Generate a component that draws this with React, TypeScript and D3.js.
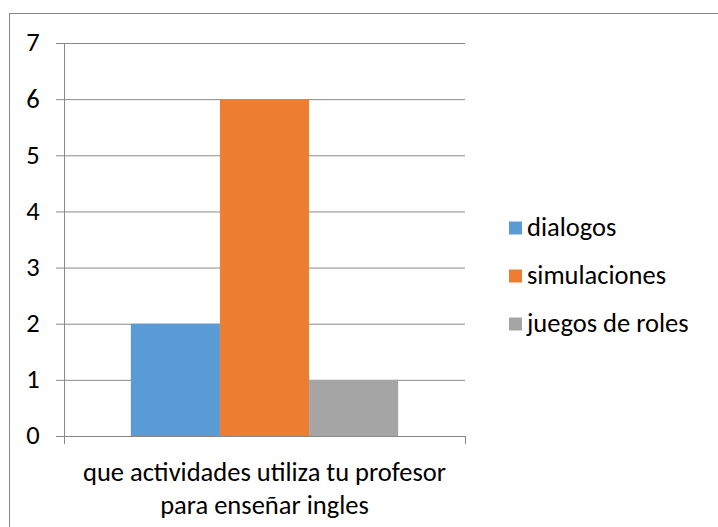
import * as d3 from "d3";

const categories = ["que actividades utiliza tu profesor|para enseñar ingles"];
const seriesNames = ["dialogos", "simulaciones", "juegos de roles"];
const seriesValues = [[2], [6], [1]];
const seriesColors = ["#5B9BD5", "#ED7D31", "#A5A5A5"];
const yTicks = [0, 1, 2, 3, 4, 5, 6, 7];

const W = 718;
const H = 527;
const font = "Carlito, Calibri, 'Open Sans', sans-serif";
const fs = 26.5;

export default function App() {
  const left = 64, right = 465, top = 43, bottom = 436;

  const x = d3.scaleBand().domain(categories).range([left, right]).paddingInner(0).paddingOuter(0.25);
  const xs = d3.scaleBand().domain(seriesNames).range([0, x.bandwidth()]);
  const y = d3.scaleLinear().domain([0, 7]).range([bottom, top]);

  return (
    <svg width={W} height={H} style={{ position: "absolute", left: 0, top: 0, fontFamily: font }}>
      <rect x={0} y={0} width={W} height={H} fill="#fff" />
      <rect x={9.5} y={13.5} width={W + 10} height={H + 10} fill="none" stroke="#898989" strokeWidth={1} />

      {yTicks.map((t) => (
        <g key={t}>
          {t > 0 && <line x1={left} x2={right} y1={y(t) + 0.5} y2={y(t) + 0.5} stroke="#898989" />}
          <line x1={left - 8} x2={left} y1={y(t) + 0.5} y2={y(t) + 0.5} stroke="#898989" />
          <text x={33} y={y(t)} dy="0.32em" fontSize={fs} textAnchor="middle" fill="#000">{t}</text>
        </g>
      ))}

      {categories.map((c) => (
        <g key={c}>
          {seriesNames.map((s, i) => (
            <rect
              key={s}
              x={(x(c) as number) + (xs(s) as number)}
              y={y(seriesValues[i][0])}
              width={xs.bandwidth()}
              height={y(0) - y(seriesValues[i][0])}
              fill={seriesColors[i]}
            />
          ))}
          {c.split("|").map((line, k) => (
            <text key={k} x={(x(c) as number) + x.bandwidth() / 2} y={481 + k * 33} fontSize={fs} textAnchor="middle" fill="#000">
              {line}
            </text>
          ))}
        </g>
      ))}

      <line x1={left + 0.5} x2={left + 0.5} y1={top} y2={bottom + 8} stroke="#898989" />
      <line x1={left} x2={right} y1={bottom + 0.5} y2={bottom + 0.5} stroke="#898989" />
      <line x1={right + 0.5} x2={right + 0.5} y1={bottom} y2={bottom + 8} stroke="#898989" />

      {seriesNames.map((s, i) => (
        <g key={s} transform={`translate(509, ${228 + i * 48})`}>
          <rect x={0} y={-6.5} width={13} height={13} fill={seriesColors[i]} />
          <text x={18} y={0} dy="0.32em" fontSize={fs} fill="#000">{s}</text>
        </g>
      ))}
    </svg>
  );
}
